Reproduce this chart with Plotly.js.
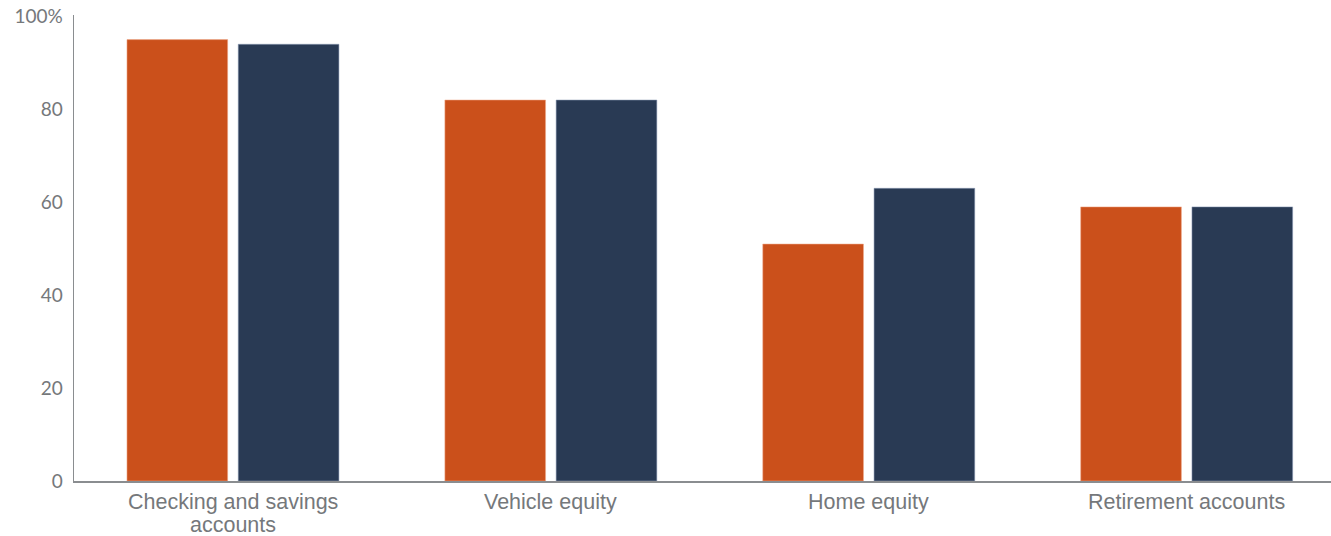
<!DOCTYPE html>
<html>
<head>
<meta charset="utf-8">
<script src="https://cdn.plot.ly/plotly-3.0.1.min.js"></script>
<style>html,body{margin:0;padding:0;background:#fff;}#chart{width:1331px;height:536px;}</style>
</head>
<body>
<div id="chart"></div>
<script>
const categories = ["Checking and savings accounts", "Vehicle equity", "Home equity", "Retirement accounts"];
const labelLine1 = ["Checking and savings", "Vehicle equity", "Home equity", "Retirement accounts"];
const labelLine2 = ["accounts", "", "", ""];
const seriesOrange = [95, 82, 51, 59];
const seriesNavy = [94, 82, 63, 59];
const yTickVals = [0, 20, 40, 60, 80, 100];
const yTickText = ["0", "20", "40", "60", "80", "100%"];

const traces = [
  {type: "bar", x: categories, y: seriesOrange, name: "Series 1",
   marker: {color: "#CB501B", line: {color: "rgba(240,170,140,0.9)", width: 0.6}}, hoverinfo: "y"},
  {type: "bar", x: categories, y: seriesNavy, name: "Series 2",
   marker: {color: "#293A54", line: {color: "rgba(140,155,180,0.9)", width: 0.6}}, hoverinfo: "y"}
];

const labelFont = {family: "Liberation Sans, Arial, sans-serif", size: 21.5, color: "#75787B"};
const annotations = [];
categories.forEach((c, i) => {
  annotations.push({x: c, xref: "x", y: 0, yref: "paper", text: labelLine1[i], showarrow: false,
    xanchor: "center", yanchor: "middle", yshift: -21, font: labelFont});
  if (labelLine2[i]) {
    annotations.push({x: c, xref: "x", y: 0, yref: "paper", text: labelLine2[i], showarrow: false,
      xanchor: "center", yanchor: "middle", yshift: -44, font: labelFont});
  }
});

const layout = {
  width: 1331, height: 536,
  margin: {l: 74, r: 0, t: 15, b: 55, pad: 0},
  paper_bgcolor: "#fff", plot_bgcolor: "#fff",
  showlegend: false,
  barmode: "group",
  bargap: 0.30,
  bargroupgap: 0.095,
  font: {family: "Liberation Sans, Arial, sans-serif", color: "#75787B", size: 20},
  annotations: annotations,
  xaxis: {
    type: "category",
    range: [-0.5, 3.454],
    showline: true, linecolor: "#8A8D90", linewidth: 1.5,
    showgrid: false, zeroline: false, ticks: "",
    showticklabels: false
  },
  yaxis: {
    range: [0, 100.3],
    tickvals: yTickVals, ticktext: yTickText,
    showline: true, linecolor: "#8A8D90", linewidth: 1.5,
    showgrid: false, zeroline: false, ticks: "",
    tickfont: {family: "Lato, Roboto, sans-serif", size: 19, color: "#75787B"},
    ticklabelstandoff: 6
  }
};

Plotly.newPlot("chart", traces, layout, {displayModeBar: false, staticPlot: true});
</script>
</body>
</html>
